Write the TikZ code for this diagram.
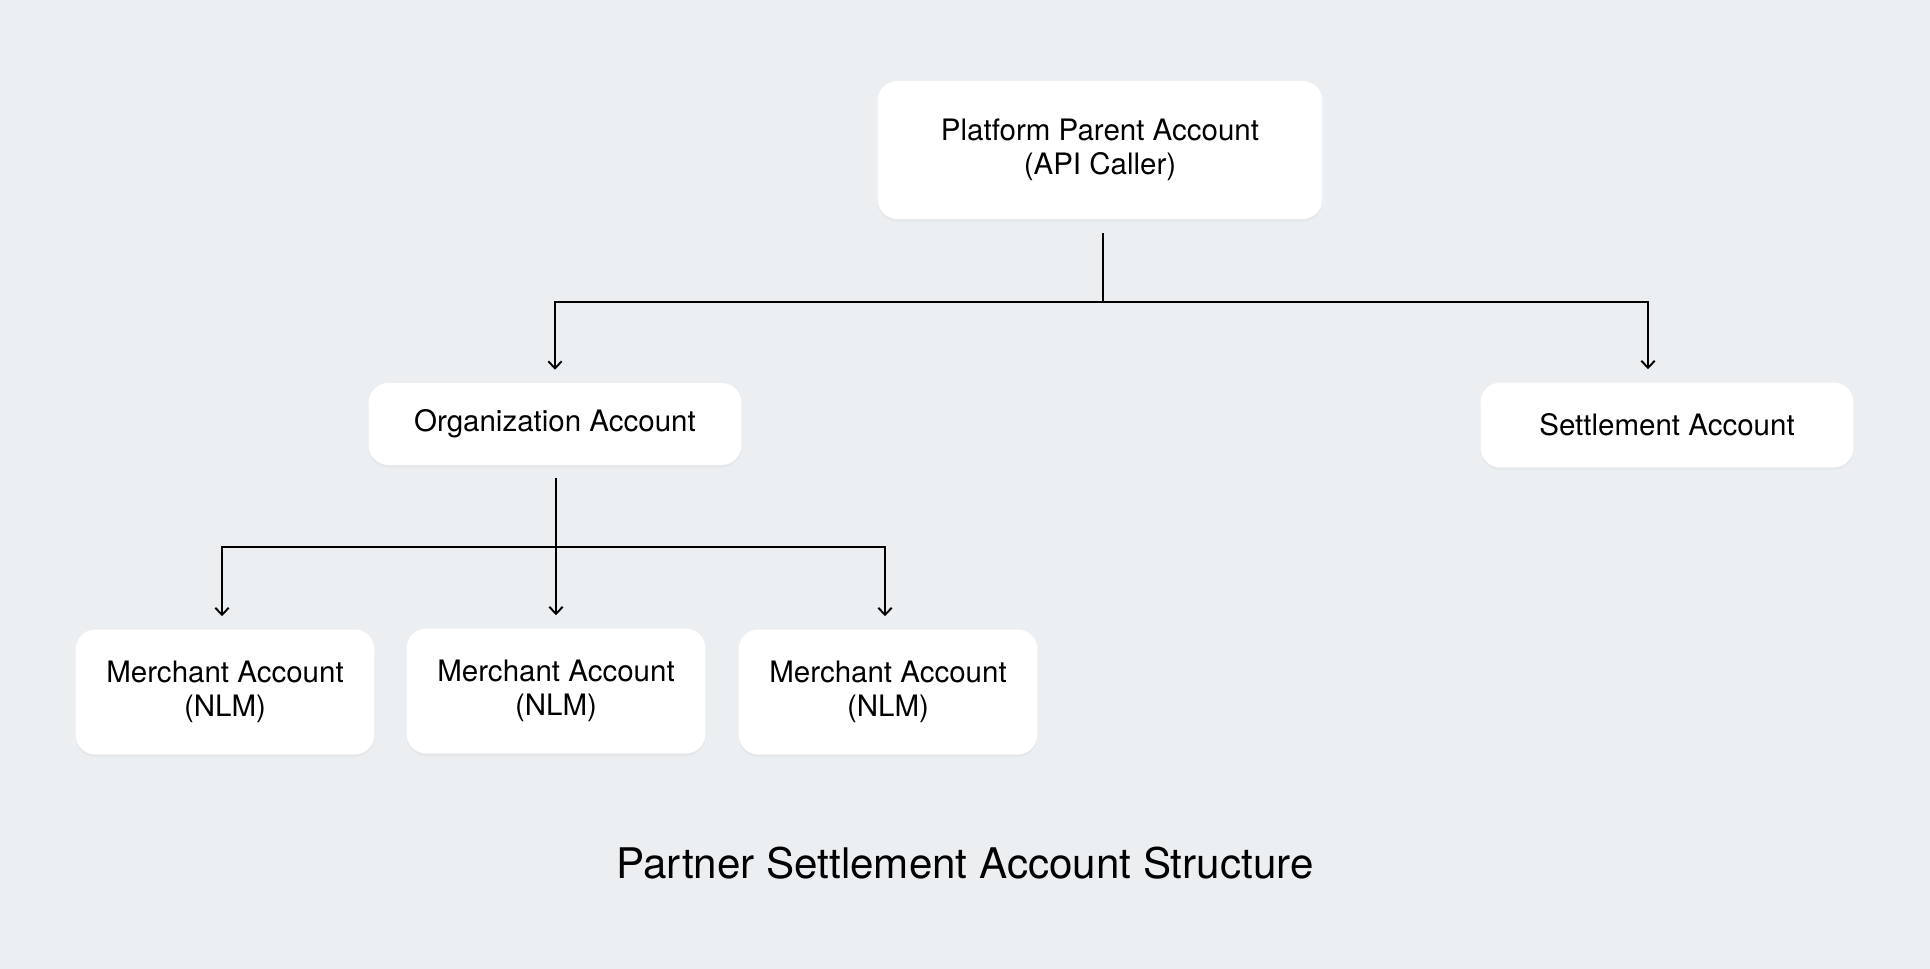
\documentclass[tikz,border=0pt]{standalone}
\usepackage{fontspec}
\setmainfont{TeX Gyre Heros}
\usetikzlibrary{arrows.meta,shadows}
\definecolor{bgcol}{RGB}{236,239,242}
\begin{document}
\begin{tikzpicture}[x=0.02cm,y=-0.02cm]
	% styles
	\tikzstyle{acct} += [fill=white,rounded corners=0.4cm,align=center,
		font=\fontsize{16.8}{19.6}\selectfont,inner sep=0pt,
		drop shadow={opacity=0.06,shadow xshift=0pt,shadow yshift=-1.5pt}]
	\tikzstyle{wire} += [line width=1.1pt,black]
	\tikzstyle{arr} += [wire,-{Straight Barb[length=0.14cm,width=0.27cm,line width=1.1pt]},shorten >=0.26cm]
	
	% background and bounding box
	\fill[bgcol] (0,0) rectangle (1930,969);
	
	% accounts
	\node[acct,minimum width=8.9cm,minimum height=2.76cm] (ppa) at (1100,150)
		{Platform Parent Account\\(API Caller)};
	\node[acct,minimum width=7.46cm,minimum height=1.64cm] (org) at (555,424)
		{Organization Account};
	\node[acct,minimum width=7.46cm,minimum height=1.7cm] (sett) at (1667,425)
		{Settlement Account};
	\node[acct,minimum width=5.98cm,minimum height=2.5cm] (nlma) at (225,692)
		{Merchant Account\\(NLM)};
	\node[acct,minimum width=5.98cm,minimum height=2.5cm] (nlmb) at (556,691)
		{Merchant Account\\(NLM)};
	\node[acct,minimum width=5.98cm,minimum height=2.5cm] (nlmc) at (888,692)
		{Merchant Account\\(NLM)};
	
	% branch points
	\coordinate (hubtop) at (1103,302);
	\coordinate (hubmid) at (556,547);
	
	% links from the parent
	\draw[wire,shorten <=0.28cm] (ppa.south -| hubtop) -- (hubtop);
	\draw[arr] (hubtop) -| (org.north);
	\draw[arr] (hubtop) -| ([xshift=-0.38cm]sett.north);
	
	% links from the organization
	\draw[wire,shorten <=0.26cm] (org.south -| hubmid) -- (hubmid);
	\draw[arr] (hubmid) -| ([xshift=-0.06cm]nlma.north);
	\draw[arr] (hubmid) -- (nlmb.north);
	\draw[arr] (hubmid) -| ([xshift=-0.06cm]nlmc.north);
	
	% title
	\node[font=\fontsize{24}{28}\selectfont] (title) at (965,863)
		{Partner Settlement Account Structure};
\end{tikzpicture}
\end{document}
